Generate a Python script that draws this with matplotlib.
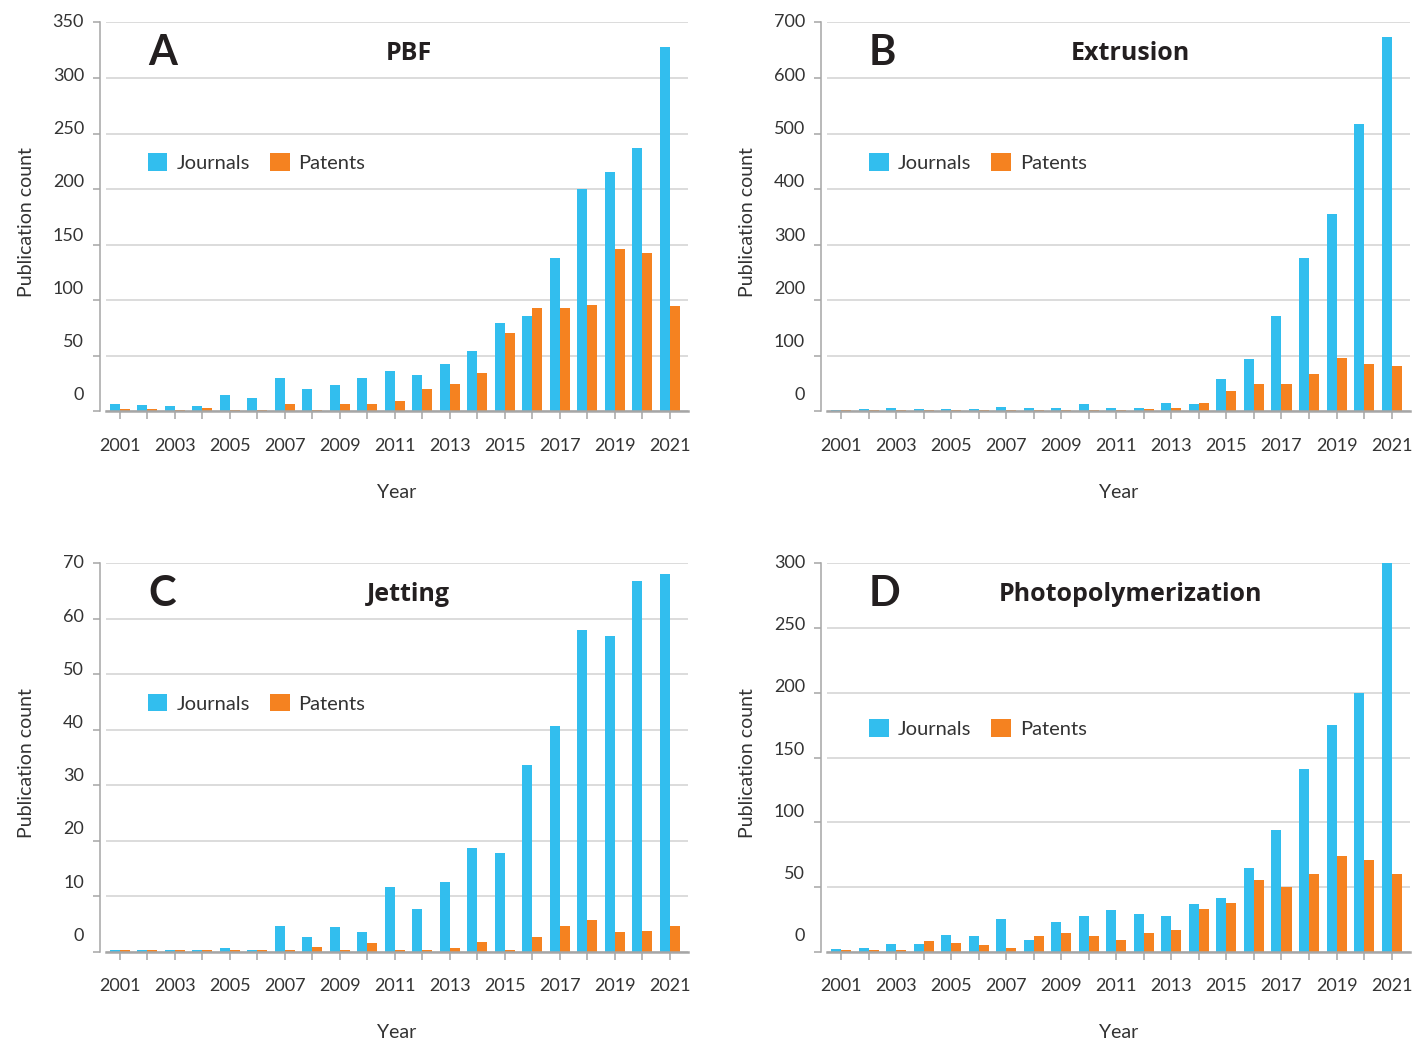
import matplotlib
matplotlib.use('Agg')
import matplotlib.pyplot as plt
import matplotlib.transforms as mtransforms
import numpy as np

# =========================
# DATA
# =========================
years = [2001, 2002, 2003, 2004, 2005, 2006, 2007, 2008, 2009, 2010, 2011,
         2012, 2013, 2014, 2015, 2016, 2017, 2018, 2019, 2020, 2021]
year_labels = [str(y) if y % 2 == 1 else '' for y in years]

pbf_journals = [7, 5.5, 4.5, 4.5, 14.5, 12.5, 30.5, 20, 23.5, 30.5, 36,
                33, 43, 54, 80, 86, 138, 200, 215, 237, 328]
pbf_patents = [2, 2, 1, 3, 1, 1, 6.5, 1, 7, 6.5, 9,
               20, 25, 35, 71, 93, 93, 96, 146, 143, 95]

extrusion_journals = [3, 5, 6.5, 5, 5, 5, 8, 6.5, 6.5, 14, 7,
                      7, 16, 13, 58, 94, 171, 277, 356, 517, 673]
extrusion_patents = [3, 3, 3, 3, 3, 3, 3, 3, 3, 3, 2,
                     5, 7, 16, 36, 49, 50, 68, 97, 85, 81]

jetting_journals = [0.3, 0.3, 0.3, 0.3, 0.65, 0.3, 4.6, 2.6, 4.4, 3.5, 11.6,
                    7.7, 12.6, 18.7, 17.8, 33.7, 40.7, 58, 56.9, 66.8, 68.1]
jetting_patents = [0.3, 0.3, 0.3, 0.3, 0.3, 0.3, 0.3, 0.8, 0.3, 1.55, 0.3,
                   0.3, 0.66, 1.7, 0.3, 2.6, 4.6, 5.7, 3.5, 3.7, 4.6]

photo_journals = [2, 2.8, 6, 6, 13, 12.2, 25.4, 9, 23, 27.7, 32,
                  29, 27.6, 36.8, 41.5, 64.6, 94, 141, 175, 200, 302]
photo_patents = [1.3, 1.3, 1.3, 8.3, 6.7, 5.2, 2.8, 12.2, 14.5, 12.2, 9,
                 14.4, 16.7, 33, 37.6, 55.4, 50, 60, 74, 70.8, 60]

panel_letters = ['A', 'B', 'C', 'D']
panel_titles = ['PBF', 'Extrusion', 'Jetting', 'Photopolymerization']
panel_ymax = [350, 700, 70, 300]
panel_ystep = [50, 100, 10, 50]

# =========================
# STYLE
# =========================
plt.rcParams['font.family'] = ['Lato', 'DejaVu Sans']
BLUE = '#32BEEE'
ORANGE = '#F58220'
TEXT = '#333333'
DARK = '#231F20'
GRID = '#D6D6D6'
AXIS = '#A6A6A6'

fig = plt.figure(figsize=(14.13, 10.43), dpi=100)

# axes boxes in figure fractions [left, bottom, width, height]
boxes = [
    [0.0750, 0.6055, 0.4119, 0.3730],
    [0.5853, 0.6055, 0.4126, 0.3730],
    [0.0750, 0.0875, 0.4119, 0.3724],
    [0.5853, 0.0875, 0.4126, 0.3724],
]
legend_y = [0.640, 0.640, 0.640, 0.575]

series = [
    (pbf_journals, pbf_patents),
    (extrusion_journals, extrusion_patents),
    (jetting_journals, jetting_patents),
    (photo_journals, photo_patents),
]

x = np.array(years, dtype=float)
w = 0.364

for i in range(4):
    ax = fig.add_axes(boxes[i])
    journals, patents = series[i]

    ax.bar(x - w / 2, journals, width=w, color=BLUE, label='Journals', zorder=3)
    ax.bar(x + w / 2, patents, width=w, color=ORANGE, label='Patents', zorder=3)

    ymax = panel_ymax[i]
    step = panel_ystep[i]
    yt = np.arange(0, ymax + step, step)

    ax.set_xlim(2000.49, 2021.67)
    ax.set_ylim(0, ymax)

    # gridlines
    ax.set_yticks(yt)
    ax.yaxis.grid(True, color=GRID, linewidth=1.2, zorder=0)
    ax.set_axisbelow(True)

    # spines
    for s in ['top', 'right']:
        ax.spines[s].set_visible(False)
    ax.spines['left'].set_position(('outward', 4.3))
    ax.spines['left'].set_color(AXIS)
    ax.spines['left'].set_linewidth(1.1)
    ax.spines['bottom'].set_color(AXIS)
    ax.spines['bottom'].set_linewidth(1.8)
    ax.spines['bottom'].set_zorder(4)

    # y tick labels drawn by hand (they drift upward in the original)
    ax.tick_params(axis='y', length=5, width=1.1, color=AXIS, labelleft=False)
    for v in yt:
        dy = 0.16 * (1 - v / ymax)
        tr = ax.get_yaxis_transform() + mtransforms.ScaledTranslation(
            -0.22, dy, fig.dpi_scale_trans)
        ax.text(0, v, f'{v:g}', transform=tr, ha='right', va='center',
                fontsize=13, color=TEXT)

    ax.set_xticks(years)
    ax.set_xticklabels(year_labels)
    ax.tick_params(axis='x', length=6, width=1.1, color=AXIS, pad=13,
                   labelsize=13, labelcolor=TEXT)

    ax.set_xlabel('Year', fontsize=14, color=TEXT, va='center')
    ax.xaxis.set_label_coords(0.5, -81 / 389)
    ax.set_ylabel('Publication count', fontsize=14, color=TEXT, va='center')
    ax.yaxis.set_label_coords(-0.136, 0.486)

    # panel letter and title
    ax.text(0.072, 0.891, panel_letters[i], transform=ax.transAxes,
            fontsize=30, fontweight='bold', color=DARK, ha='left', va='baseline')
    ax.text(0.52, 0.904, panel_titles[i], transform=ax.transAxes,
            fontsize=18, fontweight='bold', color=DARK, ha='center', va='baseline',
            family=['Open Sans', 'DejaVu Sans'])

    ax.legend(loc='center left', bbox_to_anchor=(0.072, legend_y[i]),
              ncol=2, frameon=False, fontsize=14.5, handlelength=0.97,
              handleheight=0.97, handletextpad=0.45, columnspacing=1.0,
              borderpad=0, borderaxespad=0, labelcolor=TEXT)

fig.savefig('out.png', dpi=100, facecolor='white')
